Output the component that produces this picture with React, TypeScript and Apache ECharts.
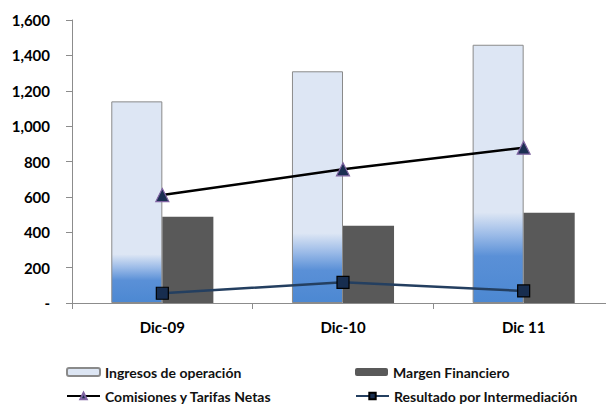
import React, { useEffect, useRef } from "react";
import * as echarts from "echarts";

const categories = ["Dic-09", "Dic-10", "Dic 11"];
const ingresos = [1140, 1310, 1460];
const margen = [488, 437, 510];
const comisiones = [610, 756, 878];
const resultado = [55, 117, 68];

const FONT = "Lato, 'Open Sans', sans-serif";

// per-bar fade positions (fraction from the bar top) of the blue base
const fades = [
  [0.76, 0.89],
  [0.7, 0.86],
  [0.65, 0.82],
];

export default function App() {
  const ref = useRef<HTMLDivElement>(null);
  useEffect(() => {
    document.body.style.margin = "0";
    document.body.style.overflow = "hidden";
    const chart = echarts.init(ref.current!, null, { renderer: "svg" });
    const mkGrad = (a: number, b: number) =>
      new echarts.graphic.LinearGradient(0, 0, 0, 1, [
        { offset: 0, color: "#DDE6F4" },
        { offset: a, color: "#DDE6F4" },
        { offset: (a + b) / 2, color: "#9DBCE8" },
        { offset: b, color: "#5A90D7" },
        { offset: 1, color: "#4C88D2" },
      ]);
    const legendText = { fontFamily: FONT, fontSize: 14, fontWeight: "bold", color: "#111" };
    const legendBase = { itemWidth: 33, itemHeight: 8, itemGap: 4, textStyle: legendText, padding: 0 };
    chart.setOption({
      animation: false,
      grid: { left: 72, top: 20, right: 0, bottom: 101 },
      legend: [
        { ...legendBase, data: ["Ingresos de operación"], left: 66, top: 365 },
        { ...legendBase, data: ["Margen Financiero"], left: 355, top: 365 },
        { ...legendBase, data: ["Comisiones y Tarifas Netas"], left: 66, top: 389 },
        { ...legendBase, data: ["Resultado por Intermediación"], left: 355, top: 389 },
      ],
      xAxis: {
        type: "category",
        data: categories,
        axisLine: { lineStyle: { color: "#8c8c8c", width: 1 } },
        axisTick: { show: true, length: 6, lineStyle: { color: "#8c8c8c" } },
        axisLabel: { fontFamily: FONT, fontSize: 15, fontWeight: "bold", color: "#000", margin: 16 },
      },
      yAxis: {
        type: "value",
        min: 0,
        max: 1600,
        interval: 200,
        splitLine: { show: false },
        axisLine: { show: true, lineStyle: { color: "#8c8c8c", width: 1 } },
        axisTick: { show: true, length: 6, lineStyle: { color: "#8c8c8c" } },
        axisLabel: {
          fontFamily: FONT,
          fontSize: 15,
          fontWeight: "bold",
          color: "#000",
          margin: 22,
          formatter: (v: number) => (v === 0 ? "-" : v.toLocaleString("en-US")),
        },
      },
      series: [
        {
          name: "Ingresos de operación",
          type: "bar",
          data: ingresos.map((v, i) => ({
            value: v,
            itemStyle: { color: mkGrad(fades[i][0], fades[i][1]) },
          })),
          barGap: "0%",
          barCategoryGap: "43.5%",
          itemStyle: { color: "#DDE6F4", borderColor: "#8a8a8a", borderWidth: 1 },
        },
        {
          name: "Margen Financiero",
          type: "bar",
          data: margen,
          itemStyle: { color: "#595959" },
        },
        {
          name: "Comisiones y Tarifas Netas",
          type: "line",
          data: comisiones,
          symbol: "triangle",
          symbolSize: 13,
          lineStyle: { color: "#000", width: 2.5 },
          itemStyle: { color: "#1B2F52", borderColor: "#8064A2", borderWidth: 1.2 },
        },
        {
          name: "Resultado por Intermediación",
          type: "line",
          data: resultado,
          symbol: "rect",
          symbolSize: 12,
          lineStyle: { color: "#243F60", width: 2.5 },
          itemStyle: { color: "#172D4F", borderColor: "#000", borderWidth: 1.2 },
        },
      ],
    });
    return () => chart.dispose();
  }, []);
  return <div ref={ref} style={{ width: 614, height: 404 }} />;
}
